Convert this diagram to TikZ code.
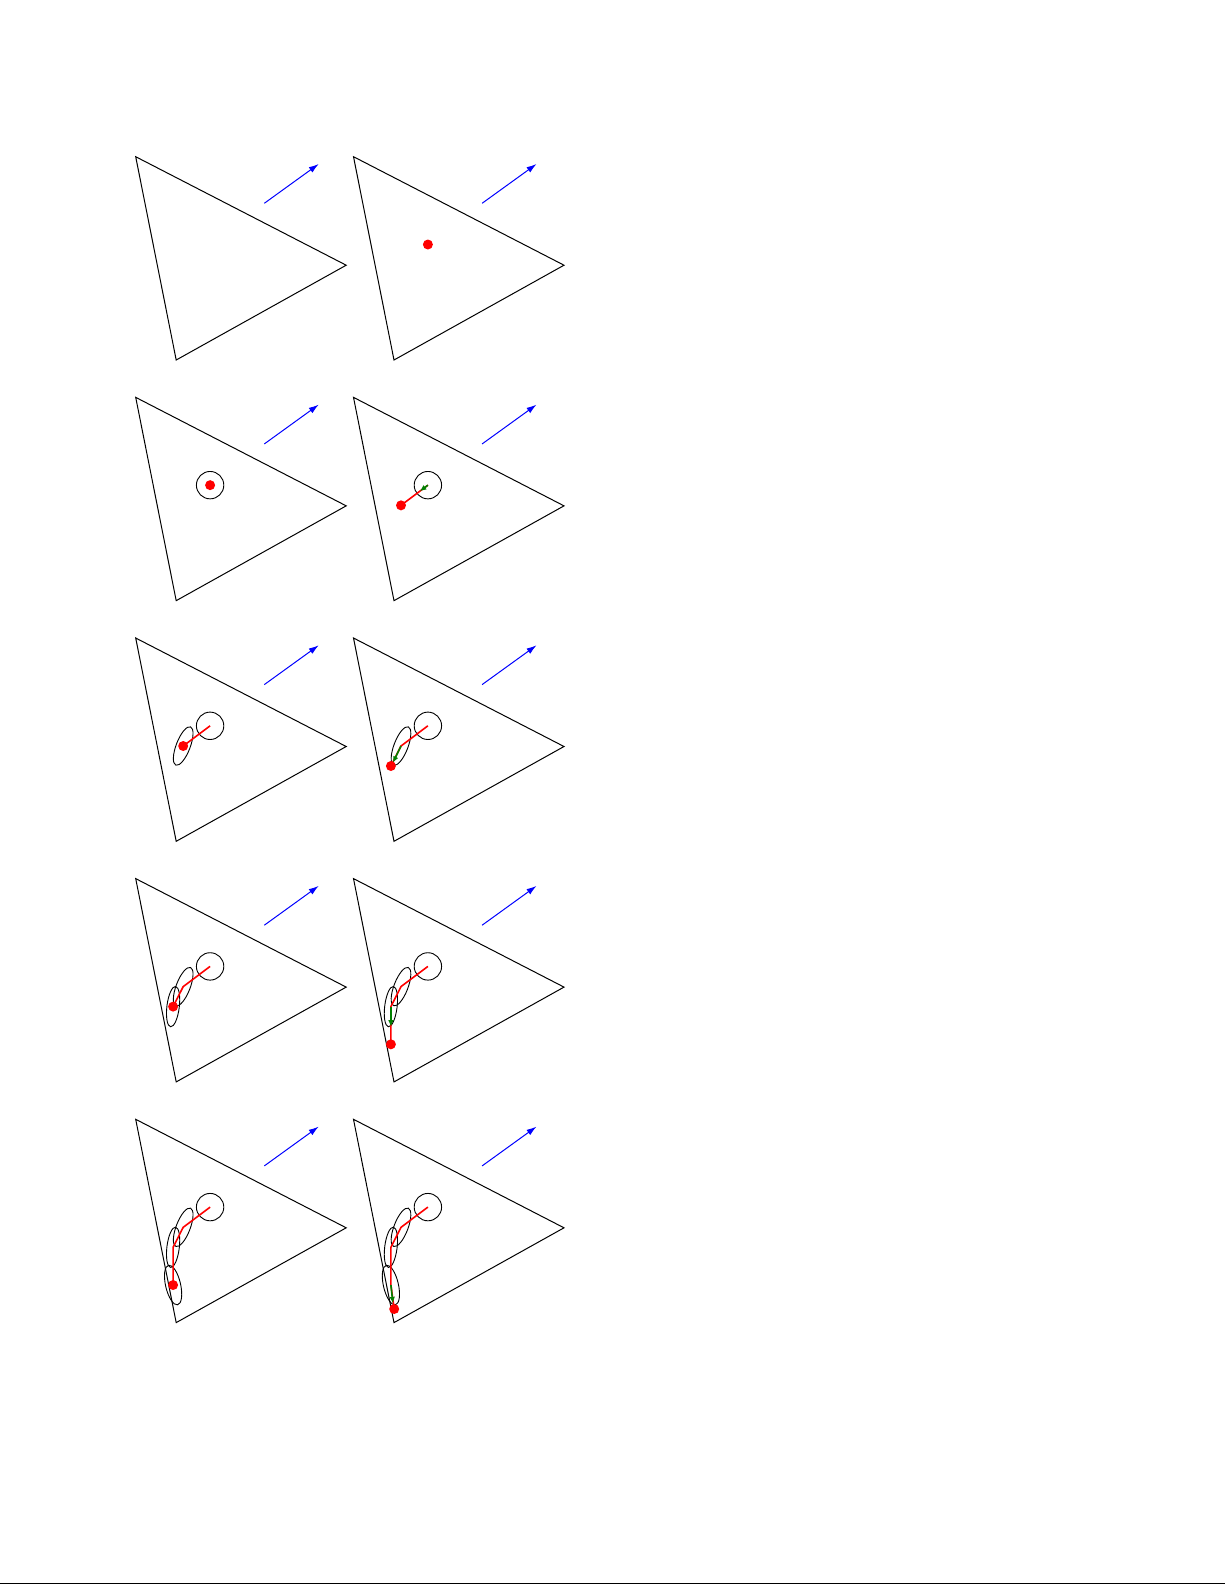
\documentclass[tikz,border=0pt]{standalone}
\usetikzlibrary{arrows.meta}
\definecolor{dgreen}{rgb}{0,0.5,0}
\tikzset{
  tri/.style={draw=black, line width=0.5pt, line join=miter},
  dirarrow/.style={draw=blue, line width=0.5pt, -{Latex[length=5pt,width=3.2pt]}},
  trail/.style={draw=red, line width=0.8pt},
  drift/.style={draw=dgreen, line width=0.8pt, -{Latex[length=3.2pt,width=2.8pt]}},
  estdot/.style={fill=red, draw=none},
  cov/.style={draw=black, line width=0.45pt},
}
\newcommand{\panelframe}{%
  \coordinate (A) at (0,0);
  \coordinate (B) at (210.5,108.5);
  \coordinate (C) at (40.5,203.3);
  \draw[tri] (A) -- (B) -- (C) -- cycle;
  \coordinate (u0) at (128.6,46.6);
  \coordinate (u1) at (183,7.3);
  \draw[dirarrow] (u0) -- (u1);
  \coordinate (p0) at (74.4,87.8);
  \coordinate (p1) at (47.5,108);
  \coordinate (p2) at (37.4,128);
  \coordinate (p3) at (37.4,165.7);
  \coordinate (p4) at (40.7,189.7);
}
\newcommand{\covzero}{\draw[cov] (p0) circle [radius=6.85pt];}
\newcommand{\covone}{\draw[cov, rotate around={69:(p1)}] (p1) ellipse [x radius=10.25pt, y radius=3.5pt];}
\newcommand{\covtwo}{\draw[cov, rotate around={83:(p2)}] (p2) ellipse [x radius=10.15pt, y radius=3.1pt];}
\newcommand{\covthree}{\draw[cov, rotate around={103:(p3)}] (p3) ellipse [x radius=10.15pt, y radius=3.75pt];}
\newcommand{\estat}[1]{\fill[estdot] (#1) circle [radius=2.5pt];}
\begin{document}
\begin{tikzpicture}[x=0.5pt, y=-0.5pt]
\useasboundingbox (0,0) rectangle (1225,1585);
\fill[white] (0,0) rectangle (1225,1585);
% row 1
\begin{scope}[shift={(135.7,156.7)}]
  \panelframe
\end{scope}
\begin{scope}[shift={(353.5,156.7)}]
  \panelframe
  \estat{p0}
\end{scope}
% row 2
\begin{scope}[shift={(135.7,397.35)}]
  \panelframe
  \covzero
  \estat{p0}
\end{scope}
\begin{scope}[shift={(353.5,397.35)}]
  \panelframe
  \covzero
  \coordinate (g0) at (66.4,93.8);
  \draw[trail] (p0) -- (p1);
  \draw[drift] (p0) -- (g0);
  \estat{p1}
\end{scope}
% row 3
\begin{scope}[shift={(135.7,638)}]
  \panelframe
  \covzero
  \covone
  \draw[trail] (p0) -- (p1);
  \estat{p1}
\end{scope}
\begin{scope}[shift={(353.5,638)}]
  \panelframe
  \covzero
  \covone
  \coordinate (g1) at (39.4,124.7);
  \draw[trail] (p0) -- (p1) -- (p2);
  \draw[drift] (p1) -- (g1);
  \estat{p2}
\end{scope}
% row 4
\begin{scope}[shift={(135.7,878.6)}]
  \panelframe
  \covzero
  \covone
  \covtwo
  \draw[trail] (p0) -- (p1) -- (p2);
  \estat{p2}
\end{scope}
\begin{scope}[shift={(353.5,878.6)}]
  \panelframe
  \covzero
  \covone
  \covtwo
  \coordinate (g2) at (37.4,148);
  \draw[trail] (p0) -- (p1) -- (p2) -- (p3);
  \draw[drift] (p2) -- (g2);
  \estat{p3}
\end{scope}
% row 5
\begin{scope}[shift={(135.7,1119.3)}]
  \panelframe
  \covzero
  \covone
  \covtwo
  \covthree
  \draw[trail] (p0) -- (p1) -- (p2) -- (p3);
  \estat{p3}
\end{scope}
\begin{scope}[shift={(353.5,1119.3)}]
  \panelframe
  \covzero
  \covone
  \covtwo
  \covthree
  \coordinate (g3) at (39.4,184);
  \draw[trail] (p0) -- (p1) -- (p2) -- (p3) -- (p4);
  \draw[drift] (p3) -- (g3);
  \estat{p4}
\end{scope}
% bottom rule
\coordinate (r0) at (0,1583.3);
\coordinate (r1) at (1225,1583.3);
\draw[line width=0.7pt] (r0) -- (r1);
\end{tikzpicture}
\end{document}
